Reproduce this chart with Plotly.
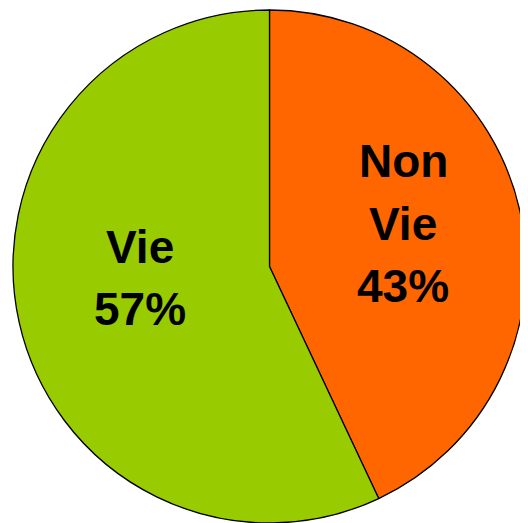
import plotly.graph_objects as go

labels = ["Non Vie", "Vie"]
values = [43, 57]
colors = ["#FF6600", "#99CC00"]
label_lines = [["Non", "Vie", "43%"], ["Vie", "57%"]]

W, H = 520, 515
cx, cy, r = 261.5, 258.5, 256.5  # pixel center from top-left of figure, radius

fig = go.Figure(go.Pie(
    labels=labels, values=values, sort=False, direction="clockwise", rotation=0,
    marker=dict(colors=colors, line=dict(color="black", width=1.3)),
    textinfo="none", hoverinfo="label+percent", showlegend=False,
    domain=dict(x=[(cx - r) / W, (cx + r) / W],
                y=[max(0, (H - cy - r) / H), min(1, (H - cy + r) / H)]),
))

# label block placement: (center x, first-line center y) in figure pixels, line step
label_pos = [(395, 153.5), (132, 239)]
line_step = 62
for lines, (px, py) in zip(label_lines, label_pos):
    for i, t in enumerate(lines):
        fig.add_annotation(x=px / W, y=1 - (py + i * line_step) / H, xref="paper", yref="paper",
                           text="<b>" + t + "</b>", showarrow=False,
                           font=dict(family="Liberation Sans, Arial", size=46, color="black"),
                           xanchor="center", yanchor="middle")

fig.update_layout(width=W, height=H, margin=dict(l=0, r=0, t=0, b=0),
                  paper_bgcolor="white", plot_bgcolor="white")
fig.write_html("out.html")
